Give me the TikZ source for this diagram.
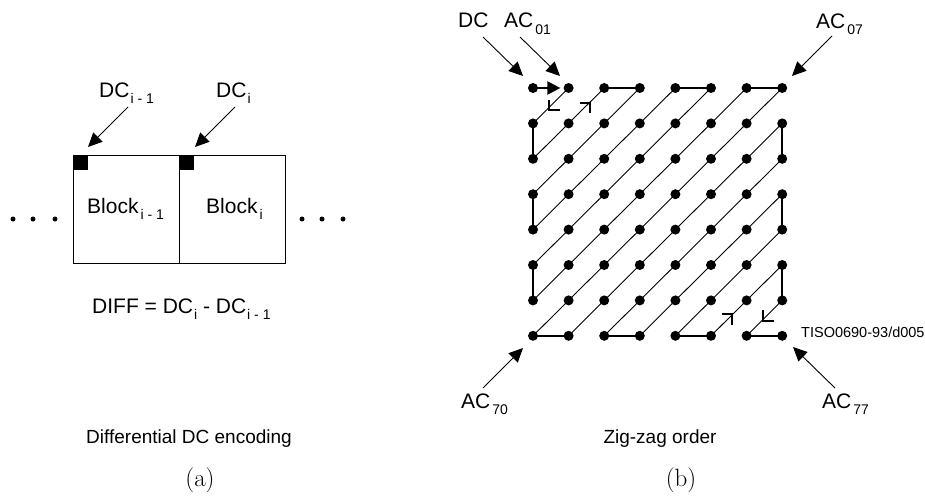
\documentclass[tikz,border=0pt]{standalone}
\usepackage{fontspec}
\newfontfamily\hv{Liberation Sans}
\usetikzlibrary{arrows.meta}
\newcommand\lsub[1]{\raisebox{-6pt}{\fontsize{14}{14}\selectfont #1}}
\tikzset{
  lbl/.style={font=\hv\fontsize{21}{21}\selectfont, inner sep=0pt, anchor=base west},
  captext/.style={font=\hv\fontsize{19}{19}\selectfont, inner sep=0pt, anchor=base},
  sublbl/.style={font=\fontsize{25}{25}\selectfont, inner sep=0pt, anchor=base},
  dot/.style={circle, fill=black, inner sep=0pt, minimum size=10pt},
  smalldot/.style={circle, fill=black, inner sep=0pt, minimum size=5pt},
  diag/.style={line width=0.9pt},
  heavyline/.style={line width=2.2pt},
  pointer/.style={line width=0.9pt, -{Triangle[length=14pt,width=13pt]}},
  cornermark/.style={line width=1.6pt},
  blockbox/.style={draw, line width=0.8pt, minimum width=106pt, minimum height=108pt, inner sep=0pt},
  sqmark/.style={fill=black, inner sep=0pt, minimum size=15pt}
}
\begin{document}
\begin{tikzpicture}[x=1pt,y=-1pt]
\useasboundingbox (0,0) rectangle (925,495);
% ---------- (a) ----------
\node[blockbox] (b1) at (126,209) {};
\node[blockbox] (b2) at (232,209) {};
\draw[line width=1.6pt] (b1.north east) -- (b1.south east);
\node[sqmark, anchor=north west] (s1) at (b1.north west) {};
\node[sqmark, anchor=north west] (s2) at (b2.north west) {};
\foreach \x [count=\k] in {13,33,55,302,322,343}
  \node[smalldot] (e\k) at (\x,219) {};
\node[lbl] (t1) at (87,213) {Block\kern2pt\lsub{i - 1}};
\node[lbl] (t2) at (206,213) {Block\kern2pt\lsub{i}};
\node[lbl] (l1) at (99,97) {DC\kern1pt\lsub{i - 1}};
\node[lbl] (l2) at (216,97) {DC\kern1pt\lsub{i}};
\coordinate (p1) at (128,107); \coordinate (q1) at (88,147);
\coordinate (p2) at (235,107); \coordinate (q2) at (195,147);
\draw[pointer] (p1) -- (q1);
\draw[pointer] (p2) -- (q2);
\node[lbl] (diff) at (92,313) {DIFF = DC\kern1pt\lsub{i} - DC\kern1pt\lsub{i - 1}};
\node[captext] (capa) at (189,443) {Differential DC encoding};
\node[sublbl] (ta) at (200,486) {(a)};
% ---------- (b) ----------
\foreach \i in {0,...,7}
  \foreach \j in {0,...,7}
    \node[dot] (d\i\j) at ({533+35.6*\i},{88+35.4*\j}) {};
\foreach \i in {0,...,6}
  \foreach \j in {1,...,7} {
    \pgfmathtruncatemacro\ii{\i+1}
    \pgfmathtruncatemacro\jj{\j-1}
    \draw[diag] (d\i\j.center) -- (d\ii\jj.center);
  }
\draw[heavyline, -{Triangle[length=13pt,width=13pt]}, shorten >=3pt] (d00.center) -- (d10);
\foreach \a/\b in {20/30,40/50,60/70,01/02,03/04,05/06,71/72,73/74,75/76,07/17,27/37,47/57,67/77}
  \draw[heavyline] (d\a.center) -- (d\b.center);
% direction corners
\draw[cornermark] (549,100) -- (549,110) -- (560,110);
\draw[cornermark] (580,103) -- (590,103) -- (590,113);
\draw[cornermark] (722,314) -- (732,314) -- (732,325);
\draw[cornermark] (763,310) -- (763,321) -- (774,321);
% labels
\node[lbl] (ldc) at (458,28) {DC};
\node[lbl] (l01) at (504,28) {AC\kern2pt\lsub{01}};
\node[lbl] (l07) at (816,29) {AC\kern2pt\lsub{07}};
\node[lbl] (l70) at (461,408) {AC\kern2pt\lsub{70}};
\node[lbl] (l77) at (822,408) {AC\kern2pt\lsub{77}};
\node[lbl, font=\hv\fontsize{14.5}{14.5}\selectfont] (tiso) at (801,337) {TISO0690-93/d005};
\coordinate (pa) at (483,37);  \coordinate (qa) at (523,76);
\coordinate (pb) at (520,37);  \coordinate (qb) at (560,76);
\coordinate (pc) at (832,36);  \coordinate (qc) at (792,76);
\coordinate (pd) at (483,388); \coordinate (qd) at (523,348);
\coordinate (pe) at (835,388); \coordinate (qe) at (793,347);
\draw[pointer] (pa) -- (qa);
\draw[pointer] (pb) -- (qb);
\draw[pointer] (pc) -- (qc);
\draw[pointer] (pd) -- (qd);
\draw[pointer] (pe) -- (qe);
\node[captext] (capb) at (660,443) {Zig-zag order};
\node[sublbl] (tb) at (681,486) {(b)};
\end{tikzpicture}
\end{document}
